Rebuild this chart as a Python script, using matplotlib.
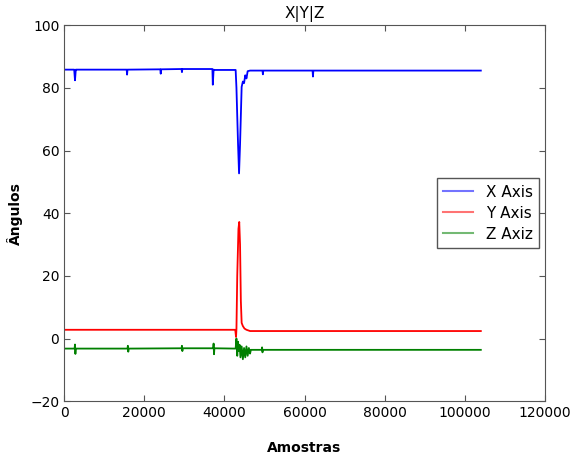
import matplotlib
matplotlib.use('Agg')
import matplotlib.pyplot as plt

# X Axis (azul)
x_amostras = [0, 2500, 2700, 2900, 3200, 15600, 15700, 15800, 24000, 24100, 24200,
              29300, 29400, 29500, 36000, 37000, 37100, 37300, 37500, 42800, 43000,
              43400, 43650, 43900, 44300, 44600, 44900, 45200, 45500, 45800, 46400,
              49500, 49600, 49700, 62000, 62100, 62200, 104000]
x_valores = [85.8, 85.8, 82.4, 85.8, 85.8, 85.8, 84.2, 85.8, 85.9, 84.5, 85.9,
             86.0, 85.0, 86.0, 86.0, 86.0, 81.0, 85.8, 85.7, 85.7, 80.0,
             62.0, 52.7, 62.0, 80.3, 82.0, 81.5, 84.0, 83.0, 85.3, 85.5,
             85.5, 84.3, 85.5, 85.5, 83.6, 85.5, 85.5]

# Y Axis (vermelho)
y_amostras = [0, 42700, 42900, 43000, 43200, 43500, 43700, 43900, 44100, 44300,
              44600, 45000, 45500, 46400, 104000]
y_valores = [2.8, 2.8, 0.5, 3.0, 20.0, 35.0, 37.2, 30.0, 12.0, 5.0,
             4.0, 3.2, 2.8, 2.4, 2.4]

# Z Axiz (verde)
z_amostras = [0, 2600, 2700, 2800, 2900, 15800, 15900, 16000, 16100, 29300, 29400,
              29500, 29600, 37200, 37300, 37400, 37500, 42800, 43000, 43200, 43400,
              43600, 43800, 44000, 44300, 44600, 44900, 45200, 45500, 45800, 46100,
              46400, 46600, 49300, 49400, 49500, 49600, 104000]
z_valores = [-3.2, -3.2, -1.9, -4.9, -3.2, -3.2, -2.3, -4.2, -3.2, -3.1, -2.3,
             -4.0, -3.1, -3.1, -1.6, -5.0, -3.1, -3.2, 0.0, -5.5, -1.0,
             -4.0, -2.0, -6.0, -2.5, -6.6, -3.0, -6.0, -2.5, -5.5, -3.0,
             -4.8, -3.6, -3.6, -2.8, -4.4, -3.6, -3.6]

fig = plt.figure(figsize=(5.73, 4.57), dpi=100)
ax = fig.add_axes([0.112, 0.122, 0.839, 0.823])

ax.plot(x_amostras, x_valores, color='#0000ff', lw=1.3, label='X Axis')
ax.plot(y_amostras, y_valores, color='#ff0000', lw=1.3, label='Y Axis')
ax.plot(z_amostras, z_valores, color='#008000', lw=1.3, label='Z Axiz')

ax.set_xlim(0, 120000)
ax.set_ylim(-20, 100)
ax.set_xticks([0, 20000, 40000, 60000, 80000, 100000, 120000])
ax.set_yticks([-20, 0, 20, 40, 60, 80, 100])
ax.tick_params(direction='in', top=True, right=True, labelsize=10, length=4, color='#555555')
for s in ax.spines.values():
    s.set_color('#555555')

ax.set_title('X|Y|Z', fontsize=11, pad=5)
ax.set_xlabel('Amostras', fontweight='bold', fontsize=10, labelpad=15)
ax.set_ylabel('Ângulos', fontweight='bold', fontsize=10, labelpad=5)

leg = ax.legend(loc='center right', fontsize=11, fancybox=False, framealpha=1,
                edgecolor='#555555', borderaxespad=0.4, handlelength=2.0,
                labelspacing=0.4)
for h in leg.get_lines():
    h.set_alpha(0.55)
    h.set_linewidth(1.5)

fig.savefig('out.png', dpi=100)
